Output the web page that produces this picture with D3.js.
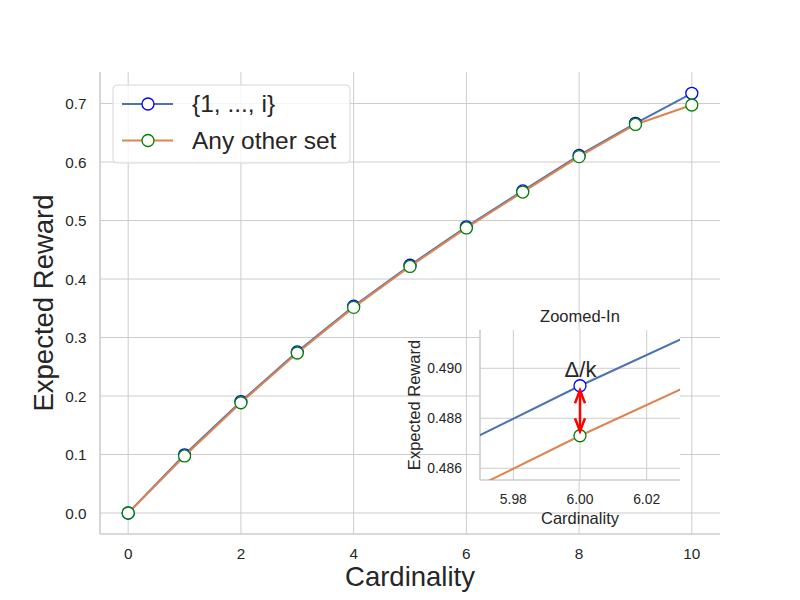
<!DOCTYPE html>
<html>
<head>
<meta charset="utf-8">
<script src="https://cdn.jsdelivr.net/npm/d3@7"></script>
<style>
  body { margin: 0; background: #fff; }
  svg { font-family: "Liberation Sans", Arial, sans-serif; }
</style>
</head>
<body>
<div id="chart"></div>
<script>
// chart data
const cardinality = [0, 1, 2, 3, 4, 5, 6, 7, 8, 9, 10];
const firstSetValues = [0, 0.0995, 0.1905, 0.2755, 0.3535, 0.4235, 0.4893, 0.5507, 0.6112, 0.6662, 0.7175];
const otherSetValues = [0, 0.0975, 0.1885, 0.2735, 0.3515, 0.4215, 0.4873, 0.5487, 0.6092, 0.6642, 0.6975];
const seriesLabels = ["{1, ..., i}", "Any other set"];
const xTicks = [0, 2, 4, 6, 8, 10];
const yTicks = [0, 0.1, 0.2, 0.3, 0.4, 0.5, 0.6, 0.7];
const insetXTicks = [5.98, 6.00, 6.02];
const insetYTicks = [0.486, 0.488, 0.490];
const zoomAt = 6;

const W = 800, H = 600;
const textColor = "#262626";
const gridColor = "#cccccc";
const lineColors = ["#4c72b0", "#dd8452"];
const markerColors = ["#0000ff", "#008000"];

const svg = d3.select("#chart").append("svg")
    .attr("width", W).attr("height", H);

// main axes
const main = { left: 100, right: 720, top: 72, bottom: 534 };
const x = d3.scaleLinear().domain([-0.5, 10.5]).range([main.left, main.right]);
const y = d3.scaleLinear().domain([-0.0359, 0.7539]).range([main.bottom, main.top]);

const series = [firstSetValues, otherSetValues].map((vals, i) => ({
    label: seriesLabels[i],
    points: cardinality.map((c, j) => ({ c: c, v: vals[j] })),
    line: lineColors[i],
    marker: markerColors[i]
}));

function drawGrid(g, xs, ys, xt, yt, box) {
    g.selectAll(".vg").data(xt).enter().append("line")
        .attr("x1", d => xs(d)).attr("x2", d => xs(d))
        .attr("y1", box.top).attr("y2", box.bottom)
        .attr("stroke", gridColor).attr("stroke-width", 1);
    g.selectAll(".hg").data(yt).enter().append("line")
        .attr("y1", d => ys(d)).attr("y2", d => ys(d))
        .attr("x1", box.left).attr("x2", box.right)
        .attr("stroke", gridColor).attr("stroke-width", 1);
    // left + bottom spines only
    g.append("line").attr("x1", box.left).attr("x2", box.left)
        .attr("y1", box.top).attr("y2", box.bottom)
        .attr("stroke", gridColor).attr("stroke-width", 1.6);
    g.append("line").attr("x1", box.left).attr("x2", box.right)
        .attr("y1", box.bottom).attr("y2", box.bottom)
        .attr("stroke", gridColor).attr("stroke-width", 1.6);
}

function drawSeries(g, xs, ys, r) {
    const line = d3.line().x(d => xs(d.c)).y(d => ys(d.v));
    series.forEach(s => {
        g.append("path").datum(s.points)
            .attr("fill", "none").attr("stroke", s.line)
            .attr("stroke-width", 2).attr("d", line);
        g.selectAll(null).data(s.points).enter().append("circle")
            .attr("cx", d => xs(d.c)).attr("cy", d => ys(d.v))
            .attr("r", r).attr("fill", "#fff")
            .attr("stroke", s.marker).attr("stroke-width", 1.3);
    });
}

const gMain = svg.append("g");
drawGrid(gMain, x, y, xTicks, yTicks, main);
drawSeries(gMain, x, y, 6);

// main tick labels
gMain.selectAll(".xt").data(xTicks).enter().append("text")
    .attr("x", d => x(d)).attr("y", 558.5)
    .attr("text-anchor", "middle").attr("font-size", 15.3)
    .attr("fill", textColor).text(d => d);
gMain.selectAll(".yt").data(yTicks).enter().append("text")
    .attr("x", 86.5).attr("y", d => y(d) + 5.6)
    .attr("text-anchor", "end").attr("font-size", 15.3)
    .attr("fill", textColor).text(d => d3.format(".1f")(d));

svg.append("text").attr("x", (main.left + main.right) / 2).attr("y", 586)
    .attr("text-anchor", "middle").attr("font-size", 27.5)
    .attr("fill", textColor).text("Cardinality");
svg.append("text").attr("transform", "rotate(-90)")
    .attr("x", -(main.top + main.bottom) / 2).attr("y", 53)
    .attr("text-anchor", "middle").attr("font-size", 27.5)
    .attr("fill", textColor).text("Expected Reward");

// legend
const legend = svg.append("g");
legend.append("rect")
    .attr("x", 113).attr("y", 85).attr("width", 237).attr("height", 78)
    .attr("rx", 4).attr("fill", "#fff").attr("fill-opacity", 0.8)
    .attr("stroke", "#d6d6d6").attr("stroke-width", 1);
series.forEach((s, i) => {
    const cy = 104 + i * 36.5;
    legend.append("line").attr("x1", 122).attr("x2", 173)
        .attr("y1", cy).attr("y2", cy)
        .attr("stroke", s.line).attr("stroke-width", 2);
    legend.append("circle").attr("cx", 148).attr("cy", cy).attr("r", 6)
        .attr("fill", "#fff").attr("stroke", s.marker).attr("stroke-width", 1.3);
    legend.append("text").attr("x", 192).attr("y", cy + 8.3)
        .attr("font-size", 24.5).attr("fill", textColor).text(s.label);
});

// inset axes
const inset = { left: 480, right: 680, top: 330, bottom: 480 };
const xi = d3.scaleLinear().domain([5.97, 6.03]).range([inset.left, inset.right]);
const yi = d3.scaleLinear().domain([0.48553, 0.49153]).range([inset.bottom, inset.top]);

const gIn = svg.append("g");
gIn.append("rect").attr("x", inset.left).attr("y", inset.top)
    .attr("width", inset.right - inset.left).attr("height", inset.bottom - inset.top)
    .attr("fill", "#fff");
svg.append("clipPath").attr("id", "insetClip").append("rect")
    .attr("x", inset.left).attr("y", inset.top)
    .attr("width", inset.right - inset.left).attr("height", inset.bottom - inset.top);
drawGrid(gIn, xi, yi, insetXTicks, insetYTicks, inset);
const gInData = gIn.append("g").attr("clip-path", "url(#insetClip)");
drawSeries(gInData, xi, yi, 6);

gIn.selectAll(".ixt").data(insetXTicks).enter().append("text")
    .attr("x", d => xi(d)).attr("y", 504)
    .attr("text-anchor", "middle").attr("font-size", 13.9)
    .attr("fill", textColor).text(d => d3.format(".2f")(d));
gIn.selectAll(".iyt").data(insetYTicks).enter().append("text")
    .attr("x", 462).attr("y", d => yi(d) + 5)
    .attr("text-anchor", "end").attr("font-size", 13.9)
    .attr("fill", textColor).text(d => d3.format(".3f")(d));
gIn.append("text").attr("x", (inset.left + inset.right) / 2).attr("y", 524)
    .attr("text-anchor", "middle").attr("font-size", 16.5)
    .attr("fill", textColor).text("Cardinality");
gIn.append("text").attr("transform", "rotate(-90)")
    .attr("x", -(inset.top + inset.bottom) / 2).attr("y", 420)
    .attr("text-anchor", "middle").attr("font-size", 16.5)
    .attr("fill", textColor).text("Expected Reward");
gIn.append("text").attr("x", (inset.left + inset.right) / 2).attr("y", 322)
    .attr("text-anchor", "middle").attr("font-size", 16.5)
    .attr("fill", textColor).text("Zoomed-In");

// gap arrow between the two series at the zoomed cardinality
const idx = cardinality.indexOf(zoomAt);
const ax = xi(zoomAt);
const yTop = yi(firstSetValues[idx]) + 4.5;
const yBot = yi(otherSetValues[idx]) - 4.5;
const arrow = gIn.append("g").attr("stroke", "#ff0000").attr("stroke-width", 2.5)
    .attr("fill", "none").attr("stroke-linecap", "butt");
arrow.append("line").attr("x1", ax).attr("x2", ax).attr("y1", yTop).attr("y2", yBot);
arrow.append("path").attr("d", `M${ax - 5},${yTop + 13} L${ax},${yTop} L${ax + 5},${yTop + 13}`);
arrow.append("path").attr("d", `M${ax - 5},${yBot - 13} L${ax},${yBot} L${ax + 5},${yBot - 13}`);

gIn.append("text").attr("x", ax + 0.5).attr("y", yi(firstSetValues[idx]) - 9)
    .attr("text-anchor", "middle").attr("font-size", 22)
    .attr("fill", textColor).text("Δ/k");
</script>
</body>
</html>
